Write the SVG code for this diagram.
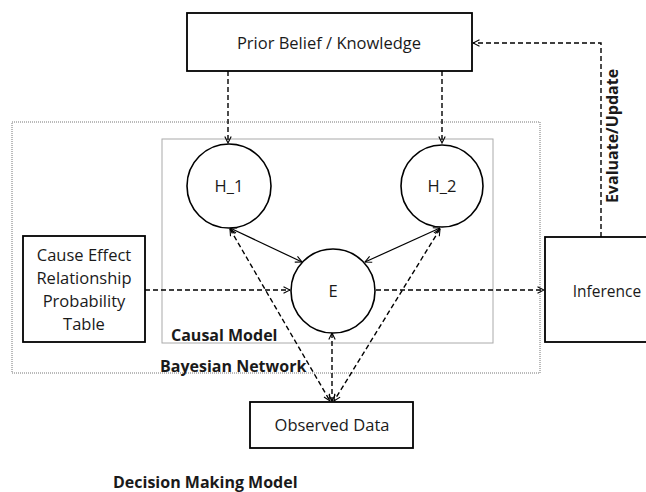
<svg xmlns="http://www.w3.org/2000/svg" width="646" height="492" viewBox="0 0 646 492">
<style>
.box{fill:#fff;stroke:#000;stroke-width:1.8}
.circ{fill:#fff;stroke:#000;stroke-width:1.6}
.t{font-family:"Open Sans","Liberation Sans",sans-serif;font-size:16.5px;fill:#1a1a1a;text-anchor:middle}
.b{font-family:"Open Sans","Liberation Sans",sans-serif;font-size:16px;font-weight:bold;fill:#1a1a1a}
.dash{fill:none;stroke:#000;stroke-width:1.4;stroke-dasharray:5,3}
.solid{fill:none;stroke:#000;stroke-width:1.2}
</style>
<defs>
<marker id="a" viewBox="0 0 8 8" refX="7.5" refY="4" markerWidth="8" markerHeight="8" markerUnits="userSpaceOnUse" orient="auto-start-reverse">
<path d="M1,0.8 L7.5,4 L1,7.2" fill="none" stroke="#000" stroke-width="1.1"/>
</marker>
</defs>
<rect x="0" y="0" width="646" height="492" fill="#fff"/>
<g id="bayesian-network">
<rect x="12" y="122" width="528" height="251" fill="none" stroke="#777" stroke-width="1" stroke-dasharray="1,1"/>
<text class="b" x="160" y="372">Bayesian Network</text>
</g>
<g id="causal-model">
<rect x="162" y="139" width="331" height="204" fill="none" stroke="#aaa" stroke-width="1"/>
<text class="b" x="171" y="341">Causal Model</text>
</g>
<g id="connectors">
<path class="dash" d="M228,71 V143" marker-end="url(#a)"/>
<path class="dash" d="M442,71 V143" marker-end="url(#a)"/>
<path class="solid" d="M230,228 L302,262" marker-start="url(#a)" marker-end="url(#a)"/>
<path class="solid" d="M440,228 L365,262" marker-start="url(#a)" marker-end="url(#a)"/>
<path class="dash" d="M145,290 H290" marker-end="url(#a)"/>
<path class="dash" d="M376,290 H544" marker-end="url(#a)"/>
<path class="dash" d="M230,229 L330,401" marker-start="url(#a)" marker-end="url(#a)"/>
<path class="dash" d="M440,229 L334,401" marker-start="url(#a)" marker-end="url(#a)"/>
<path class="dash" d="M332,333 V401" marker-start="url(#a)" marker-end="url(#a)"/>
<path class="dash" d="M601,237 V43 H473" marker-end="url(#a)"/>
<text class="b" transform="translate(618,136) rotate(-90)" text-anchor="middle">Evaluate/Update</text>
</g>
<g id="prior">
<rect class="box" x="187" y="13" width="285" height="58"/>
<text class="t" x="329" y="49">Prior Belief / Knowledge</text>
</g>
<g id="h1">
<circle class="circ" cx="229" cy="186" r="42"/>
<text class="t" x="229" y="192">H_1</text>
</g>
<g id="h2">
<circle class="circ" cx="442" cy="186" r="41"/>
<text class="t" x="442" y="192">H_2</text>
</g>
<g id="e">
<circle class="circ" cx="333" cy="291" r="42"/>
<text class="t" x="333" y="297">E</text>
</g>
<g id="cause-effect">
<rect class="box" x="23" y="236" width="122" height="106"/>
<text class="t" x="84" y="261">Cause Effect</text>
<text class="t" x="84" y="284">Relationship</text>
<text class="t" x="84" y="307">Probability</text>
<text class="t" x="84" y="330">Table</text>
</g>
<g id="inference">
<rect class="box" x="545" y="237" width="110" height="105"/>
<text class="t" x="607" y="297" style="font-size:15.5px">Inference</text>
</g>
<g id="observed">
<rect class="box" x="250" y="402" width="163" height="46"/>
<text class="t" x="332" y="431">Observed Data</text>
</g>
<g id="decision-making">
<text class="b" x="113" y="488">Decision Making Model</text>
</g>
</svg>
